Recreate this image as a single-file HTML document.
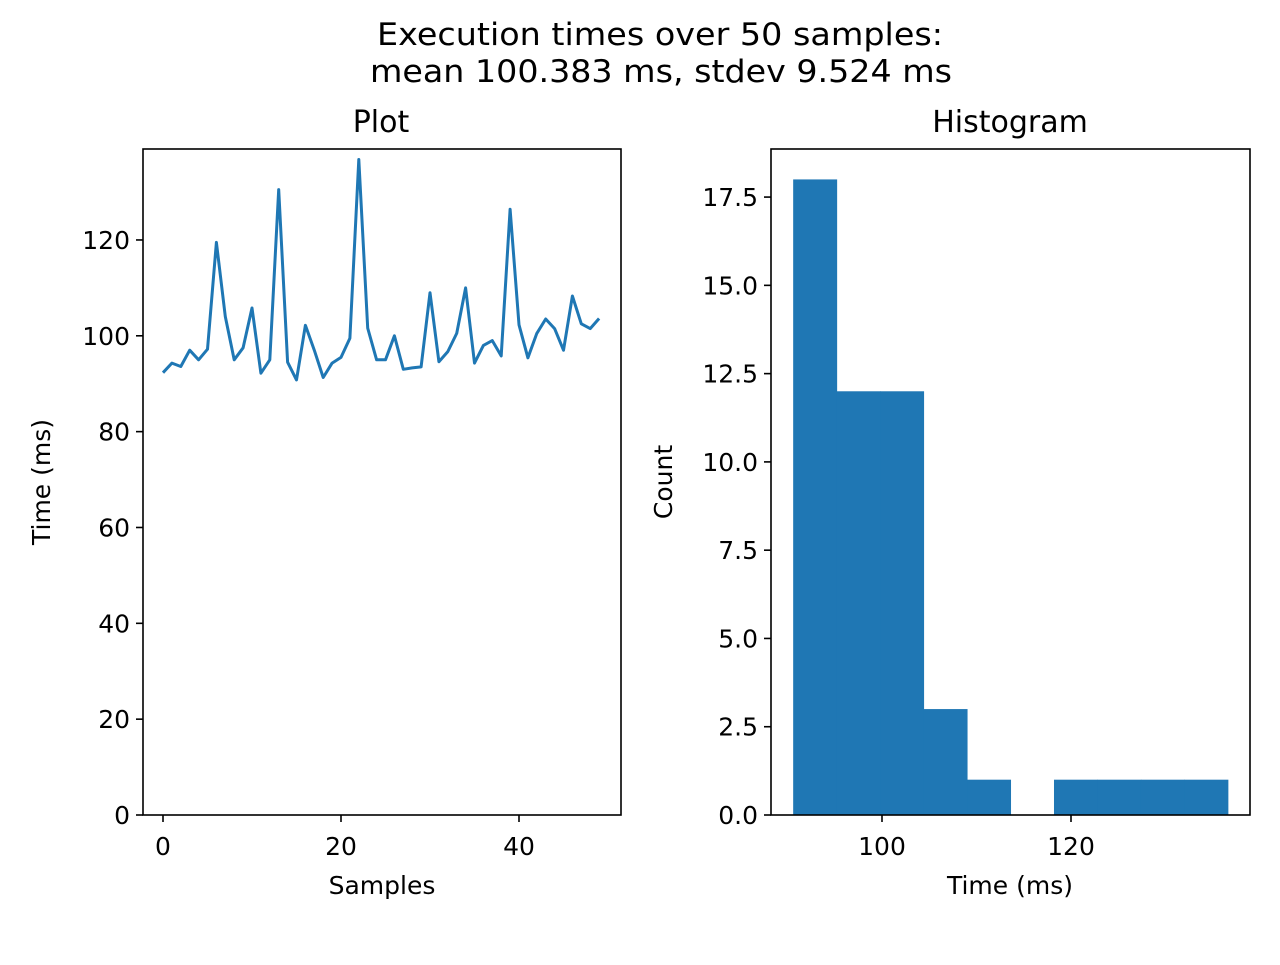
<!DOCTYPE html>
<html><head><meta charset="utf-8"><style>
body{margin:0;background:#fff;}
svg text{font-family:"DejaVu Sans","Liberation Sans",sans-serif;fill:#000;}
</style></head><body>
<svg id="chart" width="1280" height="960" xmlns="http://www.w3.org/2000/svg">
<rect width="1280" height="960" fill="#fff"/>
<text x="660" y="45" font-size="31" text-anchor="middle" textLength="566" lengthAdjust="spacingAndGlyphs">Execution times over 50 samples:</text>
<text x="661" y="82" font-size="31" text-anchor="middle" textLength="582" lengthAdjust="spacingAndGlyphs">mean 100.383 ms, stdev 9.524 ms</text>
<g id="left"></g>
<g id="right"></g>
</svg>
<script>
const samples = [92.3,94.3,93.6,97,95,97.2,119.5,104,95,97.5,105.8,92.2,95,130.5,94.5,90.8,102.2,97,91.3,94.3,95.5,99.5,136.8,101.6,95,95,100,93,93.3,93.5,109,94.6,96.7,100.5,110,94.3,98,99,95.8,126.4,102.3,95.4,100.5,103.5,101.5,97,108.3,102.5,101.5,103.6];
const leftYTicks = [0,20,40,60,80,100,120];
const leftXTicks = [0,20,40];
const binCounts = [18,12,12,3,1,0,1,1,1,1];
const binStart = 90.6;
const binEnd = 136.6;
const histYTicks = [0,2.5,5,7.5,10,12.5,15,17.5];
const histYLabels = ["0.0","2.5","5.0","7.5","10.0","12.5","15.0","17.5"];
const histXTicks = [100,120];

const NS="http://www.w3.org/2000/svg";
const FS=25;
function mk(parent,tag,attrs,text){const e=document.createElementNS(NS,tag);for(const k in attrs)e.setAttribute(k,attrs[k]);if(text!==undefined)e.textContent=text;parent.appendChild(e);return e;}

// Left panel
const L=document.getElementById('left');
const lx0=143,lx1=621,ly0=149,ly1=815;
const lxs=v=>163+v*8.9;
const lys=v=>815-v*4.792;
let d='';
samples.forEach((v,i)=>{d+=(i?'L':'M')+lxs(i).toFixed(1)+','+lys(v).toFixed(1);});
const ln=mk(L,'path',{d:d,fill:'none',stroke:'#1f77b4','stroke-width':3,'stroke-linejoin':'round'});


mk(L,'rect',{x:lx0,y:ly0,width:lx1-lx0,height:ly1-ly0,fill:'none',stroke:'#000','stroke-width':1.6});
leftYTicks.forEach(t=>{const y=lys(t);mk(L,'line',{x1:lx0-7,x2:lx0,y1:y,y2:y,stroke:'#000','stroke-width':1.6});
const tx=mk(L,'text',{x:lx0-13,y:y+9,'font-size':FS,'text-anchor':'end'},t);

});
leftXTicks.forEach(t=>{const x=lxs(t);mk(L,'line',{x1:x,x2:x,y1:ly1,y2:ly1+7,stroke:'#000','stroke-width':1.6});
const tx=mk(L,'text',{x:x,y:ly1+40,'font-size':FS,'text-anchor':'middle'},t);

});
mk(L,'text',{x:381,y:132,'font-size':30,'text-anchor':'middle',},'Plot');
mk(L,'text',{x:382,y:894,'font-size':FS,'text-anchor':'middle',},'Samples');
mk(L,'text',{x:0,y:0,'font-size':FS,'text-anchor':'middle',transform:'translate(50,482) rotate(-90)',},'Time (ms)');

// Right panel
const R=document.getElementById('right');
const rx0=771,rx1=1250,ry0=149,ry1=815;
const rxs=v=>882+(v-100)*9.45;
const rys=v=>815-v*35.31;
const bw=(binEnd-binStart)/binCounts.length;
binCounts.forEach((c,i)=>{if(!c)return;const xa=rxs(binStart+i*bw),xb=rxs(binStart+(i+1)*bw);
const r=mk(R,'rect',{x:xa,y:rys(c),width:xb-xa+0.5,height:rys(0)-rys(c),fill:'#1f77b4'});

});
mk(R,'rect',{x:rx0,y:ry0,width:rx1-rx0,height:ry1-ry0,fill:'none',stroke:'#000','stroke-width':1.6});
histYTicks.forEach((t,i)=>{const y=rys(t);mk(R,'line',{x1:rx0-7,x2:rx0,y1:y,y2:y,stroke:'#000','stroke-width':1.6});
const tx=mk(R,'text',{x:rx0-13,y:y+9,'font-size':FS,'text-anchor':'end'},histYLabels[i]);

});
histXTicks.forEach(t=>{const x=rxs(t);mk(R,'line',{x1:x,x2:x,y1:ry1,y2:ry1+7,stroke:'#000','stroke-width':1.6});
const tx=mk(R,'text',{x:x,y:ry1+40,'font-size':FS,'text-anchor':'middle'},t);

});
mk(R,'text',{x:1010,y:132,'font-size':30,'text-anchor':'middle',},'Histogram');
mk(R,'text',{x:1010,y:894,'font-size':FS,'text-anchor':'middle',},'Time (ms)');
mk(R,'text',{x:0,y:0,'font-size':FS,'text-anchor':'middle',transform:'translate(672,482) rotate(-90)',},'Count');
</script>
</body></html>
